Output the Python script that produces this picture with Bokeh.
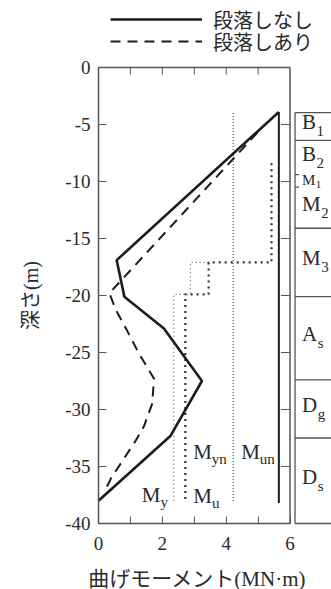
import math
from bokeh.plotting import figure
from bokeh.models import FixedTicker, Legend, LegendItem, Range1d
from bokeh.core.properties import value
from bokeh.embed import file_html
from bokeh.resources import INLINE

# ---------------- data ----------------
moment_major = [0, 2, 4, 6]
moment_minor = [1, 3, 5]
moment_top_ticks = [1, 2, 3, 4, 5]
depth_ticks = [0, -5, -10, -15, -20, -25, -30, -35, -40]
depth_inner_ticks = [-5, -10, -15, -20, -25, -30, -35]

# bending moment without cut-off (solid)
no_cut_moment = [5.65, 0.57, 0.81, 2.05, 3.24, 2.26, 0.0]
no_cut_depth = [-3.9, -16.9, -20.1, -22.9, -27.5, -32.3, -38.0]

# bending moment with cut-off (dashed)
cut_moment = [4.98, 0.34, 0.55, 0.90, 1.25, 1.74, 1.68, 1.42, 1.15, 0.80, 0.40, 0.22]
cut_depth = [-5.7, -19.8, -21.3, -23.1, -25.0, -27.3, -29.5, -31.5, -32.8, -34.3, -36.0, -37.0]

# capacities with cut-off (stepped)
mu_moment = [5.42, 5.42, 3.45, 3.45, 2.72, 2.72]
mu_depth = [-8.4, -17.1, -17.1, -19.9, -19.9, -38.2]
my_moment = [3.45, 2.88, 2.88, 2.36, 2.36]
my_depth = [-17.1, -17.1, -19.9, -19.9, -38.2]

# capacities without cut-off (constant)
myn_moment = 4.22
mun_moment = 5.65
cap_top = [-4.0, -3.9]
cap_bottom = -38.2

series_labels = ["段落しなし", "段落しあり"]

# soil layers
layer_main = ["B", "B", "M", "M", "M", "A", "D", "D"]
layer_sub = ["1", "2", "1", "2", "3", "s", "g", "s"]
layer_top = [-3.95, -6.4, -9.4, -10.5, -14.1, -20.1, -27.4, -32.5]
layer_thin = [False, False, True, False, False, False, False, False]
ground_bottom = -40.0

x_label = "曲げモーメント(MN·m)"
y_label = "深さ(m)"

# ---------------- layout ----------------
W, H = 331, 589
X0_PX, Y0_PX = 98, 67             # where moment 0 / depth 0 sit on the canvas
PX_X = 31.92                      # px per MN·m
PX_Y = 11.4                       # px per m
x_start = -X0_PX / PX_X
x_end = (W - X0_PX) / PX_X
y_top = Y0_PX / PX_Y
y_bot = -(H - Y0_PX) / PX_Y

INK = "#1c1c1c"
AX = "#555555"
TXT = "#2a2a2a"
SERIF = "Liberation Serif"
SERIF_Q = "'Liberation Serif', serif"
MIXED = "'Liberation Serif', 'Noto Sans CJK JP'"

p = figure(width=W, height=H, x_range=Range1d(x_start, x_end), y_range=Range1d(y_bot, y_top),
           output_backend="svg", toolbar_location=None,
           min_border_left=0, min_border_right=0, min_border_top=0, min_border_bottom=0)
p.outline_line_color = None
p.grid.visible = False
p.background_fill_color = "white"
p.border_fill_color = "white"

xa = p.xaxis[0]
xa.fixed_location = -40
xa.bounds = (0, 6)
xa.ticker = FixedTicker(ticks=moment_major, minor_ticks=moment_minor)
xa.major_label_overrides = {t: str(t) for t in moment_major}
xa.major_tick_in, xa.major_tick_out = 7, 0
xa.minor_tick_in, xa.minor_tick_out = 7, 0
xa.axis_line_color = AX
xa.axis_line_width = 1.5
xa.major_tick_line_color = AX
xa.minor_tick_line_color = AX
xa.major_label_text_font = SERIF_Q
xa.major_label_text_font_size = "19px"
xa.major_label_text_color = TXT
xa.major_label_standoff = 13

ya = p.yaxis[0]
ya.fixed_location = 0
ya.bounds = (-40, 0)
ya.ticker = FixedTicker(ticks=depth_ticks, minor_ticks=[])
ya.major_label_overrides = {t: str(t) for t in depth_ticks}
ya.major_tick_in, ya.major_tick_out = 8, 0
ya.axis_line_color = AX
ya.axis_line_width = 1.5
ya.major_tick_line_color = AX
ya.major_label_text_font = SERIF_Q
ya.major_label_text_font_size = "19px"
ya.major_label_text_color = TXT
ya.major_label_standoff = 8

# axis titles, centred on the axes' bounds
p.text(x=[3], y=[-40], text=[x_label], y_offset=55, x_offset=3, text_font=value(MIXED),
       text_font_size="21px", text_color=TXT, text_align="center", text_baseline="middle")
p.text(x=[0], y=[-20], text=[y_label], x_offset=-68, angle=math.pi / 2, text_font=value(MIXED),
       text_font_size="20px", text_color=TXT, text_align="center", text_baseline="middle")

# top and right frame edges with inward ticks
p.segment(x0=[0], y0=[0], x1=[6], y1=[0], line_color=AX, line_width=1.5)
p.segment(x0=[6], y0=[0], x1=[6], y1=[-40], line_color=AX, line_width=1.5)
p.segment(x0=moment_top_ticks, y0=[0] * len(moment_top_ticks), x1=moment_top_ticks,
          y1=[-7 / PX_Y] * len(moment_top_ticks), line_color=AX, line_width=1)
p.segment(x0=[6] * len(depth_inner_ticks), y0=depth_inner_ticks,
          x1=[6 - 9 / PX_X] * len(depth_inner_ticks), y1=depth_inner_ticks, line_color=AX, line_width=1)

# capacity lines
p.line(my_moment, my_depth, line_color="#666666", line_width=1.2, line_dash="1 3")
p.line(mu_moment, mu_depth, line_color="#333333", line_width=2.2, line_dash="2 4")
p.segment(x0=[myn_moment], y0=[cap_top[0]], x1=[myn_moment], y1=[cap_bottom],
          line_color="#555555", line_width=1.2, line_dash="1 2")
p.segment(x0=[mun_moment], y0=[cap_top[1]], x1=[mun_moment], y1=[cap_bottom],
          line_color=INK, line_width=2)

# moment curves
r_solid = p.line(no_cut_moment, no_cut_depth, line_color=INK, line_width=2.6)
r_dash = p.line(cut_moment, cut_depth, line_color=INK, line_width=2, line_dash="10 7")

# capacity labels (M + subscript)
M_W = 0.889 * 21
cap_lbl_x = [my_moment[-1], mu_moment[-1], myn_moment, myn_moment]
cap_lbl_dx = [-32, 8, -40, 8]
cap_lbl_y = [-37.5, -37.6, -33.7, -33.7]
cap_lbl_sub = ["y", "u", "yn", "un"]
for x, dx, y, s in zip(cap_lbl_x, cap_lbl_dx, cap_lbl_y, cap_lbl_sub):
    p.text(x=[x], y=[y], text=["M"], x_offset=dx, text_font=value(SERIF), text_font_size="21px",
           text_color=TXT, text_baseline="middle", text_align="left")
    p.text(x=[x], y=[y], text=[s], x_offset=dx + M_W, y_offset=7, text_font=value(SERIF),
           text_font_size="15px", text_color=TXT, text_baseline="middle", text_align="left")

# soil layer column
x_tab = 6 + 5 / PX_X
bounds = layer_top + [ground_bottom]
p.segment(x0=[x_tab], y0=[layer_top[0]], x1=[x_tab], y1=[ground_bottom], line_color=AX, line_width=1.3)
full_y, short_y = [], []
for i, yb in enumerate(bounds):
    thin = (i < len(layer_thin) and layer_thin[i]) or (i > 0 and layer_thin[i - 1])
    (short_y if thin else full_y).append(yb)
p.segment(x0=[x_tab] * len(full_y), y0=full_y, x1=[x_end + 1] * len(full_y), y1=full_y,
          line_color=AX, line_width=1.3)
p.segment(x0=[x_tab] * len(short_y), y0=short_y, x1=[x_tab + 4 / PX_X] * len(short_y), y1=short_y,
          line_color=AX, line_width=1.2)

adv = {"B": 0.667, "M": 0.889, "A": 0.722, "D": 0.722}
for i, (m, s) in enumerate(zip(layer_main, layer_sub)):
    mid = (bounds[i] + bounds[i + 1]) / 2
    size = 15 if layer_thin[i] else 21
    ssize = 11 if layer_thin[i] else 15
    p.text(x=[x_tab], y=[mid], text=[m], x_offset=7, y_offset=-4 if not layer_thin[i] else -1,
           text_font=value(SERIF), text_font_size=f"{size}px", text_color=TXT,
           text_baseline="middle", text_align="left")
    p.text(x=[x_tab], y=[mid], text=[s], x_offset=7 + adv[m] * size + 0.5,
           y_offset=5 if not layer_thin[i] else 4,
           text_font=value(SERIF), text_font_size=f"{ssize}px", text_color=TXT,
           text_baseline="middle", text_align="left")

# legend: one entry per box so each row sits where the reference has it
legend_rows_from_bottom = [554, 532]
for lbl, rend, vy in zip(series_labels, [r_solid, r_dash], legend_rows_from_bottom):
    lg = Legend(items=[LegendItem(label=lbl, renderers=[rend])],
                location=(X0_PX + 12, vy), orientation="vertical",
                padding=0, spacing=0, margin=0, glyph_width=92, glyph_height=32,
                label_height=32, label_standoff=11,
                label_text_font=MIXED, label_text_font_size="20px", label_text_color=TXT,
                border_line_color=None, background_fill_alpha=0)
    p.add_layout(lg)

open("out.html", "w").write(file_html(p, INLINE))
